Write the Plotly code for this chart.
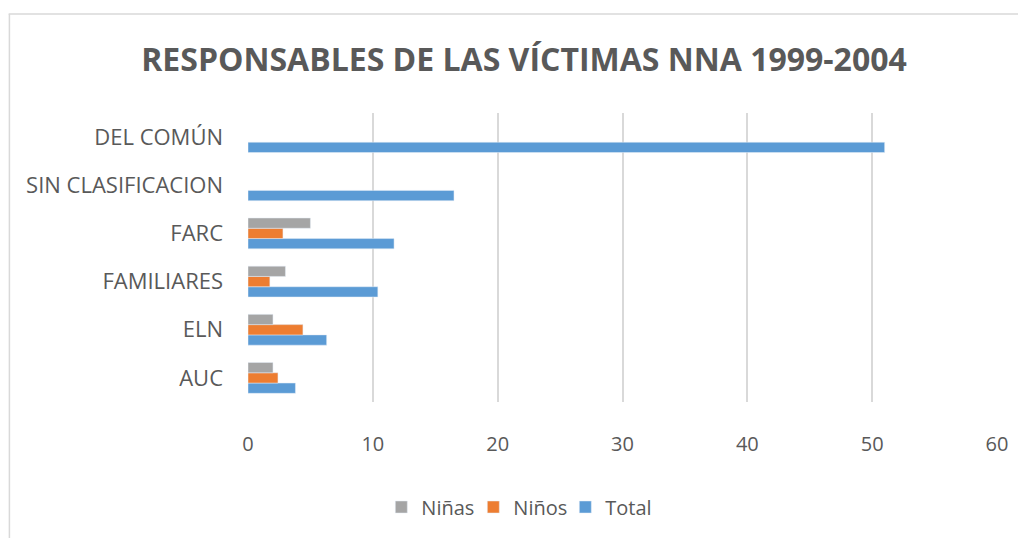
import plotly.graph_objects as go

categories = ["DEL COMÚN", "SIN CLASIFICACION", "FARC", "FAMILIARES", "ELN", "AUC"]
ninas = [None, None, 5, 3, 2, 2]
ninos = [None, None, 2.8, 1.75, 4.4, 2.4]
total = [51, 16.5, 11.7, 10.4, 6.3, 3.8]
x_ticks = [0, 10, 20, 30, 40, 50, 60]

# page has an 8px body margin; figure sized to fill the rest of the window
OFF = 8
W, H = 1026 - OFF, 538 - OFF
L, R, T, B = 247.5 - OFF, 997 - OFF, 113 - OFF, 402 - OFF
pw, ph = R - L, B - T

def px(x):  # screen x -> paper
    return (x - OFF - L) / pw

def py(y):  # screen y -> paper
    return (B - (y - OFF)) / ph

fig = go.Figure()
fig.add_trace(go.Bar(y=categories, x=total, name="Total", orientation="h",
                     marker=dict(color="#5B9BD5")))
fig.add_trace(go.Bar(y=categories, x=ninos, name="Niños", orientation="h",
                     marker=dict(color="#ED7D31")))
fig.add_trace(go.Bar(y=categories, x=ninas, name="Niñas", orientation="h",
                     marker=dict(color="#A5A5A5")))

fig.update_layout(
    width=W, height=H,
    margin=dict(l=L, r=W - R, t=T, b=H - B, autoexpand=False),
    paper_bgcolor="white", plot_bgcolor="white",
    barmode="group", bargap=0.36, bargroupgap=0,
    font=dict(family="Open Sans", color="#595959"),
    title=dict(text="<b>RESPONSABLES DE LAS VÍCTIMAS NNA 1999-2004</b>",
               x=(524 - OFF) / W, xanchor="center", y=1 - (60 - OFF) / H, yanchor="middle",
               font=dict(size=32, color="#595959", family="Open Sans")),
    xaxis=dict(range=[0, 60], tickvals=x_ticks, showgrid=True, gridcolor="#D9D9D9",
               gridwidth=1.5, zeroline=False, showline=False,
               tickfont=dict(size=20, color="#595959"), ticklabelstandoff=28),
    yaxis=dict(categoryorder="array", categoryarray=categories[::-1],
               autorange=True, showgrid=False, zeroline=False, showline=False,
               tickfont=dict(size=22, color="#595959"), ticklabelstandoff=24),
    legend=dict(orientation="h", x=px(519), xanchor="center", y=py(507), yanchor="middle",
                traceorder="reversed", font=dict(size=20, color="#595959"),
                itemwidth=30, entrywidth=47, entrywidthmode="pixels"),
    showlegend=True,
    shapes=[
        dict(type="line", xref="paper", yref="paper",
             x0=px(8.75), x1=px(8.75), y0=py(560), y1=py(14),
             line=dict(color="#D9D9D9", width=1.5), layer="below"),
        dict(type="line", xref="paper", yref="paper",
             x0=px(8), x1=px(1040), y0=py(14), y1=py(14),
             line=dict(color="#D9D9D9", width=1.5), layer="below"),
    ],
)

fig.write_html("out.html")
